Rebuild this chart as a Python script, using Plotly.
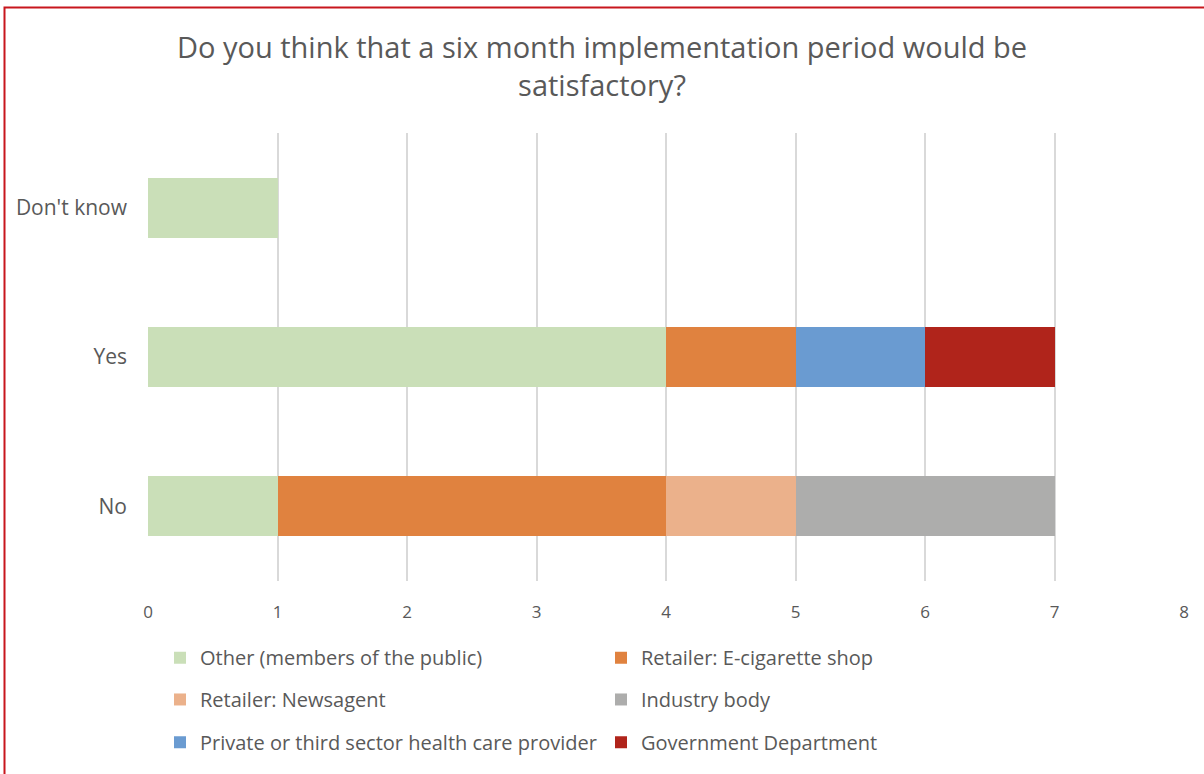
import plotly.graph_objects as go

# Responses per answer, split by respondent type
categories = ["No", "Yes", "Don't know"]
series_names = [
    "Other (members of the public)",
    "Retailer: E-cigarette shop",
    "Retailer: Newsagent",
    "Industry body",
    "Private or third sector health care provider",
    "Government Department",
]
other_public = [1, 4, 1]
ecig_shop = [3, 1, 0]
newsagent = [1, 0, 0]
industry_body = [2, 0, 0]
health_provider = [0, 1, 0]
government = [0, 1, 0]
x_ticks = [0, 1, 2, 3, 4, 5, 6, 7, 8]

series_values = [other_public, ecig_shop, newsagent, industry_body, health_provider, government]
colors = ["#CADFB8", "#E0823F", "#EBB18B", "#ADADAC", "#6A9BD1", "#B0241B"]
# legend row of each series (two entries per row)
legend_ids = ["legend", "legend", "legend2", "legend2", "legend3", "legend3"]

FONT = "Open Sans"
TEXT = "#595959"

fig = go.Figure()
for name, vals, col, lg in zip(series_names, series_values, colors, legend_ids):
    fig.add_trace(go.Bar(
        y=categories, x=vals, name=name, orientation="h",
        marker=dict(color=col, line=dict(width=0)),
        width=0.4, legend=lg,
    ))

W, H = 1204, 774
ML, MR, MT, MB = 148, 20, 133, 191
pw, ph = W - ML - MR, H - MT - MB

def px_x(p):
    return (p - ML) / pw

def px_y(p):
    return (H - MB - p) / ph

def legend_row(center_px):
    return dict(
        orientation="h", x=px_x(160), xanchor="left",
        y=px_y(center_px), yanchor="middle",
        traceorder="normal", entrywidth=396,
        font=dict(size=20, color=TEXT, family=FONT),
        bgcolor="rgba(0,0,0,0)",
    )

fig.update_layout(
    width=W, height=H,
    barmode="stack",
    plot_bgcolor="white", paper_bgcolor="white",
    margin=dict(l=ML, r=MR, t=MT, b=MB),
    font=dict(family=FONT, color=TEXT),
    title=dict(
        text="Do you think that a six month implementation period would be<br>satisfactory?",
        x=0.5, xref="container", xanchor="center",
        y=1 - 58 / H, yref="container", yanchor="middle",
        font=dict(size=29, color=TEXT, family=FONT),
    ),
    xaxis=dict(
        range=[0, 8], tickvals=x_ticks,
        showgrid=True, gridcolor="#D9D9D9", gridwidth=1.5,
        zeroline=False, showline=False,
        tickfont=dict(size=17, color=TEXT), ticks="", ticklabelstandoff=19,
    ),
    yaxis=dict(
        showgrid=False, zeroline=False, showline=False,
        tickfont=dict(size=21, color=TEXT), ticks="", ticklabelstandoff=20,
        categoryorder="array", categoryarray=categories,
    ),
    legend=legend_row(660),
    legend2=legend_row(702),
    legend3=legend_row(745),
    showlegend=True,
    shapes=[
        dict(type="rect", xref="paper", yref="paper",
             x0=px_x(4.5), x1=px_x(1300), y0=px_y(900), y1=px_y(7),
             line=dict(color="#C8161D", width=2), fillcolor="rgba(0,0,0,0)",
             layer="above"),
    ],
)

fig.write_html("out.html")
